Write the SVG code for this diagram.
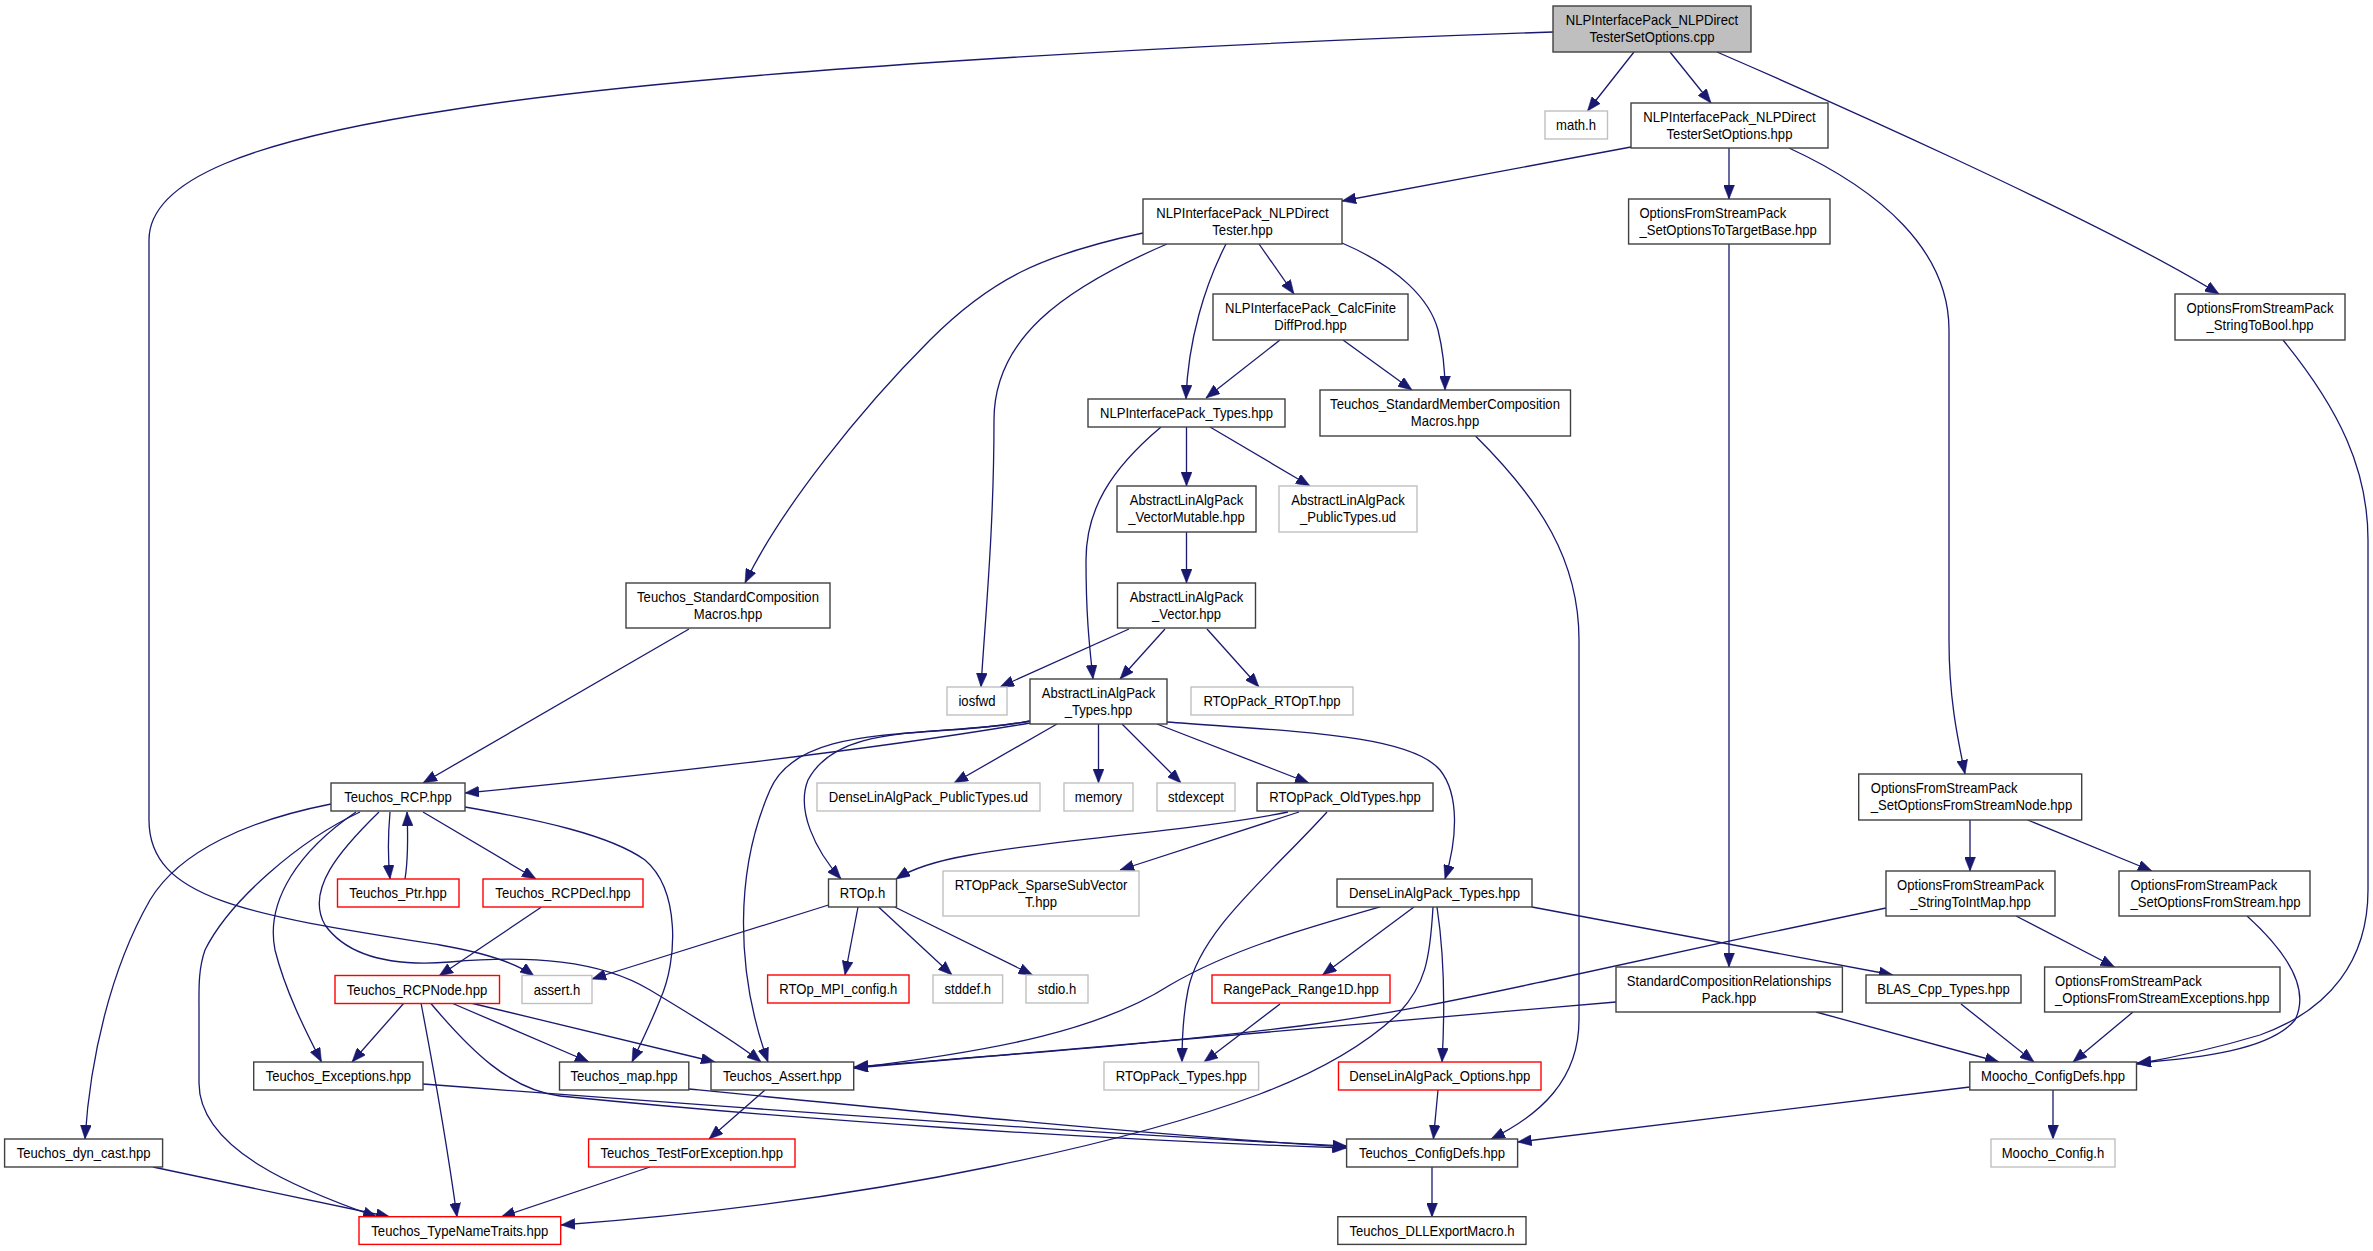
<svg xmlns="http://www.w3.org/2000/svg" width="2373" height="1251" viewBox="0 0 2373 1251">
<style>
.n rect{fill:#fff;stroke:#404040;stroke-width:1.4}
.g rect{stroke:#c0c0c0}
.r rect{stroke:#ff0000}
.root rect{fill:#bfbfbf}
text{font-family:"Liberation Sans",Arial,sans-serif;font-size:14px;fill:#000}
.c{text-anchor:middle}
.e path{fill:none;stroke:#191970;stroke-width:1.3;marker-end:url(#a)}
</style>
<defs>
<marker id="a" markerUnits="userSpaceOnUse" markerWidth="14" markerHeight="11" refX="14" refY="5.5" orient="auto">
<path d="M0,0 L14,5.5 L0,11 Z" fill="#191970" stroke="#191970" stroke-width="0.5"/>
</marker>
</defs>
<rect width="2373" height="1251" fill="#ffffff"/>
<g id="edges" class="e">
<path d="M1553,32 C1200,44 700,70 450,110 C250,140 149,180 149,240 L149,820 C149,900 250,915 440,945 C480,952 515,962 534,976"/>
<path d="M1634,52 L1587.5,111"/>
<path d="M1670,52 L1711,103"/>
<path d="M1717,52 C1800,88 2100,220 2219,294"/>
<path d="M1631,147 L1342,201"/>
<path d="M1729,148 L1729,199"/>
<path d="M1789,148 C1880,190 1949,250 1949,330 L1949,640 C1949,700 1958,740 1965,774"/>
<path d="M1143,233 C1040,255 990,280 930,340 C860,410 780,510 745,583"/>
<path d="M1167,244 C1060,290 994,340 994,420 C994,530 985,620 981,687"/>
<path d="M1226,244 C1205,285 1188,340 1186,399"/>
<path d="M1259,244 L1294,294"/>
<path d="M1342,243 C1400,268 1430,300 1438,330 C1443,350 1445,370 1445,390"/>
<path d="M1280,340 L1206,398"/>
<path d="M1343,340 L1412,390"/>
<path d="M1475.5,436 C1540,500 1579,560 1579,640 L1579,1020 C1579,1080 1540,1115 1491,1139"/>
<path d="M1729,244 L1729,967"/>
<path d="M2283,340 C2340,410 2368,470 2368,540 L2368,890 C2368,960 2330,1010 2260,1035 C2210,1050 2170,1058 2137,1064"/>
<path d="M1161,427 C1110,470 1086,510 1086,560 C1086,620 1090,650 1093,679"/>
<path d="M1186.5,427 L1186.5,486"/>
<path d="M1210,427 L1310,486"/>
<path d="M1186.5,532 L1186.5,583"/>
<path d="M1129,629 L1000,687"/>
<path d="M1165,629 L1120,679"/>
<path d="M1207,629 L1259,687"/>
<path d="M689,629 L423,783"/>
<path d="M1030,723 C900,745 700,770 465,793"/>
<path d="M1030,721 C940,738 840,720 808,780 C796,810 815,850 841,879"/>
<path d="M1030,721 C930,740 800,720 770,790 C735,870 735,970 768,1062"/>
<path d="M1057,724 L954,783"/>
<path d="M1098.5,724 L1098.5,783"/>
<path d="M1122,724 L1181,783"/>
<path d="M1157,724 L1309,783"/>
<path d="M1167,722 C1300,732 1410,735 1440,770 C1460,795 1457,840 1445,879"/>
<path d="M1288,812 C1200,830 1050,840 970,855 C930,862 910,870 896,879"/>
<path d="M1299,812 L1120,870"/>
<path d="M1327,812 C1270,875 1200,930 1188,990 C1183,1015 1182,1040 1182,1062"/>
<path d="M1970,820 L1970,871"/>
<path d="M2027.6,820 L2152,871"/>
<path d="M331,804 C250,820 180,850 150,900 C110,970 90,1060 85,1139"/>
<path d="M360,812 C300,840 230,900 205,950 C198,970 199,990 199,1010 L199,1083 C199,1150 300,1190 377,1217"/>
<path d="M356,812 C300,850 265,900 275,950 C285,990 305,1030 321.5,1062"/>
<path d="M379,812 C340,850 305,890 325,925 C350,960 400,966 450,962 C530,955 600,960 650,990 C700,1020 740,1045 761,1062"/>
<path d="M390,812 C388,835 388,860 390,879"/>
<path d="M405,879 C408,860 408,835 407,812"/>
<path d="M423,812 L536,879"/>
<path d="M465,807 C540,820 610,835 645,860 C680,890 678,960 660,1000 C650,1025 640,1045 632,1062"/>
<path d="M541.5,907 L439,976"/>
<path d="M828.5,905 L592,979"/>
<path d="M858,907 L845,975"/>
<path d="M878.6,907 L952,975"/>
<path d="M894.7,907 L1032.5,975"/>
<path d="M1380,907 C1300,930 1230,950 1170,985 C1100,1030 1000,1050 854,1068"/>
<path d="M1414,907 L1322.5,975"/>
<path d="M1433,907 C1430,960 1425,985 1399,1013 C1360,1050 1310,1075 1260,1094 C1150,1135 900,1200 561,1225"/>
<path d="M1437,907 C1445,960 1445,1010 1442,1062"/>
<path d="M1532,907 L1893,975"/>
<path d="M1886,908 C1780,930 1640,960 1560,978 C1480,995 1400,1013 1300,1026 C1150,1045 1000,1055 854,1067"/>
<path d="M2016,916 L2114.5,967"/>
<path d="M2247,916 C2290,955 2310,990 2295,1020 C2270,1050 2200,1058 2137,1063"/>
<path d="M1616,1002 C1400,1020 1200,1040 854,1068"/>
<path d="M1816,1012 L1999,1062"/>
<path d="M404,1003 L352,1062"/>
<path d="M421,1003 C430,1050 445,1130 457,1217"/>
<path d="M430.5,1003 C470,1050 510,1090 560,1096 C800,1120 1100,1140 1346.6,1148"/>
<path d="M451.6,1003 L589,1062"/>
<path d="M470.7,1003 L715,1062"/>
<path d="M1280,1004 L1204,1062"/>
<path d="M1961,1004 L2034,1062"/>
<path d="M2133,1012 L2073,1062"/>
<path d="M423,1084 C700,1105 1100,1135 1346.6,1146"/>
<path d="M689,1089 C900,1110 1150,1135 1346.6,1147"/>
<path d="M765,1090 L709,1139"/>
<path d="M1438,1090 L1433.4,1139"/>
<path d="M1969.8,1087 L1517.6,1142"/>
<path d="M2053,1090 L2053,1139"/>
<path d="M153,1167 L390,1217"/>
<path d="M650,1167 L501,1217"/>
<path d="M1432,1167 L1432,1217"/>
</g>
<g id="n1" class="n root"><rect x="1553" y="6" width="198" height="46"/><text class="c" transform="translate(1652,25) scale(0.935,1)">NLPInterfacePack_NLPDirect</text><text class="c" transform="translate(1652,42) scale(0.935,1)">TesterSetOptions.cpp</text></g>
<g id="n2" class="n g"><rect x="1545" y="111" width="62.5" height="28"/><text class="c" transform="translate(1576,130) scale(0.935,1)">math.h</text></g>
<g id="n3" class="n"><rect x="1631" y="103" width="197" height="45"/><text class="c" transform="translate(1729.5,122) scale(0.935,1)">NLPInterfacePack_NLPDirect</text><text class="c" transform="translate(1729.5,139) scale(0.935,1)">TesterSetOptions.hpp</text></g>
<g id="n4" class="n"><rect x="2175" y="294" width="170" height="46"/><text class="c" transform="translate(2260,313) scale(0.935,1)">OptionsFromStreamPack</text><text class="c" transform="translate(2260,330) scale(0.935,1)">_StringToBool.hpp</text></g>
<g id="n5" class="n"><rect x="1143" y="199" width="199" height="45"/><text class="c" transform="translate(1242.5,218) scale(0.935,1)">NLPInterfacePack_NLPDirect</text><text class="c" transform="translate(1242.5,235) scale(0.935,1)">Tester.hpp</text></g>
<g id="n6" class="n"><rect x="1628.6" y="199" width="201.4" height="45"/><text transform="translate(1639.4,218) scale(0.935,1)">OptionsFromStreamPack</text><text transform="translate(1639.4,235) scale(0.935,1)">_SetOptionsToTargetBase.hpp</text></g>
<g id="n7" class="n"><rect x="1213" y="294" width="195" height="46"/><text class="c" transform="translate(1310.5,313) scale(0.935,1)">NLPInterfacePack_CalcFinite</text><text class="c" transform="translate(1310.5,330) scale(0.935,1)">DiffProd.hpp</text></g>
<g id="n8" class="n"><rect x="1320" y="390" width="250.5" height="46"/><text class="c" transform="translate(1445,409) scale(0.935,1)">Teuchos_StandardMemberComposition</text><text class="c" transform="translate(1445,426) scale(0.935,1)">Macros.hpp</text></g>
<g id="n9" class="n"><rect x="1088" y="399" width="197" height="28"/><text class="c" transform="translate(1186.5,418) scale(0.935,1)">NLPInterfacePack_Types.hpp</text></g>
<g id="n10" class="n"><rect x="1117" y="486" width="139" height="46"/><text class="c" transform="translate(1186.5,505) scale(0.935,1)">AbstractLinAlgPack</text><text class="c" transform="translate(1186.5,522) scale(0.935,1)">_VectorMutable.hpp</text></g>
<g id="n11" class="n g"><rect x="1279" y="486" width="138" height="46"/><text class="c" transform="translate(1348,505) scale(0.935,1)">AbstractLinAlgPack</text><text class="c" transform="translate(1348,522) scale(0.935,1)">_PublicTypes.ud</text></g>
<g id="n12" class="n"><rect x="1117.5" y="583" width="138" height="45"/><text class="c" transform="translate(1186.5,602) scale(0.935,1)">AbstractLinAlgPack</text><text class="c" transform="translate(1186.5,619) scale(0.935,1)">_Vector.hpp</text></g>
<g id="n13" class="n"><rect x="626" y="583" width="204" height="45"/><text class="c" transform="translate(728,602) scale(0.935,1)">Teuchos_StandardComposition</text><text class="c" transform="translate(728,619) scale(0.935,1)">Macros.hpp</text></g>
<g id="n14" class="n g"><rect x="947" y="687" width="60" height="28"/><text class="c" transform="translate(977,706) scale(0.935,1)">iosfwd</text></g>
<g id="n15" class="n"><rect x="1030" y="679" width="137" height="45"/><text class="c" transform="translate(1098.5,698) scale(0.935,1)">AbstractLinAlgPack</text><text class="c" transform="translate(1098.5,715) scale(0.935,1)">_Types.hpp</text></g>
<g id="n16" class="n g"><rect x="1191" y="687" width="162" height="28"/><text class="c" transform="translate(1272,706) scale(0.935,1)">RTOpPack_RTOpT.hpp</text></g>
<g id="n17" class="n"><rect x="1858.7" y="774" width="223" height="46"/><text transform="translate(1870.7,793) scale(0.935,1)">OptionsFromStreamPack</text><text transform="translate(1870.7,810) scale(0.935,1)">_SetOptionsFromStreamNode.hpp</text></g>
<g id="n18" class="n"><rect x="331" y="783" width="134" height="28"/><text class="c" transform="translate(398,802) scale(0.935,1)">Teuchos_RCP.hpp</text></g>
<g id="n19" class="n g"><rect x="817" y="783" width="223" height="28"/><text class="c" transform="translate(928.5,802) scale(0.935,1)">DenseLinAlgPack_PublicTypes.ud</text></g>
<g id="n20" class="n g"><rect x="1064" y="783" width="69" height="28"/><text class="c" transform="translate(1098.5,802) scale(0.935,1)">memory</text></g>
<g id="n21" class="n g"><rect x="1157" y="783" width="78" height="28"/><text class="c" transform="translate(1196,802) scale(0.935,1)">stdexcept</text></g>
<g id="n22" class="n"><rect x="1257" y="783" width="176" height="28"/><text class="c" transform="translate(1345,802) scale(0.935,1)">RTOpPack_OldTypes.hpp</text></g>
<g id="n23" class="n r"><rect x="337.5" y="879" width="121.5" height="28"/><text class="c" transform="translate(398,898) scale(0.935,1)">Teuchos_Ptr.hpp</text></g>
<g id="n24" class="n r"><rect x="483" y="879" width="160" height="28"/><text class="c" transform="translate(563,898) scale(0.935,1)">Teuchos_RCPDecl.hpp</text></g>
<g id="n25" class="n"><rect x="828.5" y="879" width="68" height="28"/><text class="c" transform="translate(862.5,898) scale(0.935,1)">RTOp.h</text></g>
<g id="n26" class="n g"><rect x="943" y="871" width="196" height="45"/><text class="c" transform="translate(1041,890) scale(0.935,1)">RTOpPack_SparseSubVector</text><text class="c" transform="translate(1041,907) scale(0.935,1)">T.hpp</text></g>
<g id="n27" class="n"><rect x="1337" y="879" width="195" height="28"/><text class="c" transform="translate(1434.5,898) scale(0.935,1)">DenseLinAlgPack_Types.hpp</text></g>
<g id="n28" class="n"><rect x="1886" y="871" width="169" height="45"/><text class="c" transform="translate(1970.5,890) scale(0.935,1)">OptionsFromStreamPack</text><text class="c" transform="translate(1970.5,907) scale(0.935,1)">_StringToIntMap.hpp</text></g>
<g id="n29" class="n"><rect x="2119" y="871" width="191" height="45"/><text transform="translate(2130.4,890) scale(0.935,1)">OptionsFromStreamPack</text><text transform="translate(2130.4,907) scale(0.935,1)">_SetOptionsFromStream.hpp</text></g>
<g id="n30" class="n r"><rect x="335" y="975.5" width="164.5" height="28"/><text class="c" transform="translate(417,994.5) scale(0.935,1)">Teuchos_RCPNode.hpp</text></g>
<g id="n31" class="n g"><rect x="522" y="975.5" width="70" height="28"/><text class="c" transform="translate(557,994.5) scale(0.935,1)">assert.h</text></g>
<g id="n32" class="n r"><rect x="767.6" y="975" width="141.4" height="28"/><text class="c" transform="translate(838.3,994) scale(0.935,1)">RTOp_MPI_config.h</text></g>
<g id="n33" class="n g"><rect x="933" y="975" width="69.6" height="28"/><text class="c" transform="translate(967.8,994) scale(0.935,1)">stddef.h</text></g>
<g id="n34" class="n g"><rect x="1026" y="975" width="62" height="28"/><text class="c" transform="translate(1057,994) scale(0.935,1)">stdio.h</text></g>
<g id="n35" class="n r"><rect x="1212" y="975" width="178" height="28"/><text class="c" transform="translate(1301,994) scale(0.935,1)">RangePack_Range1D.hpp</text></g>
<g id="n36" class="n"><rect x="1616" y="967" width="226.4" height="45"/><text class="c" transform="translate(1729,986) scale(0.935,1)">StandardCompositionRelationships</text><text class="c" transform="translate(1729,1003) scale(0.935,1)">Pack.hpp</text></g>
<g id="n37" class="n"><rect x="1866" y="975" width="155" height="28"/><text class="c" transform="translate(1943.5,994) scale(0.935,1)">BLAS_Cpp_Types.hpp</text></g>
<g id="n38" class="n"><rect x="2044.6" y="967" width="235.4" height="45"/><text transform="translate(2055,986) scale(0.935,1)">OptionsFromStreamPack</text><text transform="translate(2055,1003) scale(0.935,1)">_OptionsFromStreamExceptions.hpp</text></g>
<g id="n39" class="n"><rect x="253.7" y="1062" width="169.3" height="28"/><text class="c" transform="translate(338.4,1081) scale(0.935,1)">Teuchos_Exceptions.hpp</text></g>
<g id="n40" class="n"><rect x="559.5" y="1062" width="129.3" height="28"/><text class="c" transform="translate(624,1081) scale(0.935,1)">Teuchos_map.hpp</text></g>
<g id="n41" class="n"><rect x="711" y="1062" width="142.7" height="28"/><text class="c" transform="translate(782.3,1081) scale(0.935,1)">Teuchos_Assert.hpp</text></g>
<g id="n42" class="n g"><rect x="1104" y="1062" width="154.6" height="28"/><text class="c" transform="translate(1181.3,1081) scale(0.935,1)">RTOpPack_Types.hpp</text></g>
<g id="n43" class="n r"><rect x="1338.5" y="1062" width="202.5" height="28"/><text class="c" transform="translate(1439.8,1081) scale(0.935,1)">DenseLinAlgPack_Options.hpp</text></g>
<g id="n44" class="n"><rect x="1969.8" y="1062" width="166.7" height="28"/><text class="c" transform="translate(2053,1081) scale(0.935,1)">Moocho_ConfigDefs.hpp</text></g>
<g id="n45" class="n"><rect x="4.6" y="1139" width="158" height="28"/><text class="c" transform="translate(83.6,1158) scale(0.935,1)">Teuchos_dyn_cast.hpp</text></g>
<g id="n46" class="n r"><rect x="588.6" y="1139" width="206.4" height="28"/><text class="c" transform="translate(691.8,1158) scale(0.935,1)">Teuchos_TestForException.hpp</text></g>
<g id="n47" class="n"><rect x="1346.6" y="1139" width="171" height="28"/><text class="c" transform="translate(1432,1158) scale(0.935,1)">Teuchos_ConfigDefs.hpp</text></g>
<g id="n48" class="n g"><rect x="1991" y="1139" width="124" height="28"/><text class="c" transform="translate(2053,1158) scale(0.935,1)">Moocho_Config.h</text></g>
<g id="n49" class="n r"><rect x="359" y="1216.7" width="201.7" height="27.7"/><text class="c" transform="translate(459.8,1236) scale(0.935,1)">Teuchos_TypeNameTraits.hpp</text></g>
<g id="n50" class="n"><rect x="1337.8" y="1216.7" width="188.2" height="27.7"/><text class="c" transform="translate(1432,1236) scale(0.935,1)">Teuchos_DLLExportMacro.h</text></g>
</svg>
